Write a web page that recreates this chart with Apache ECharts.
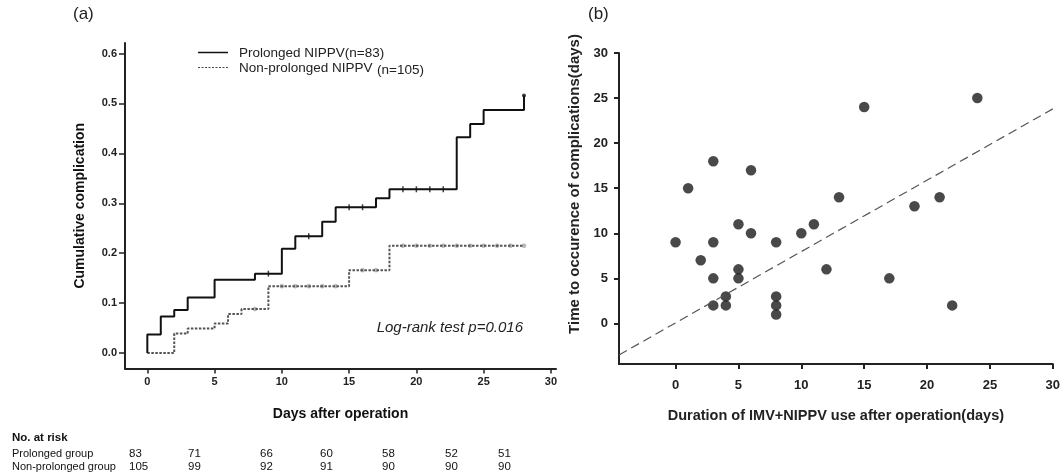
<!DOCTYPE html>
<html><head><meta charset="utf-8">
<script src="https://cdn.jsdelivr.net/npm/echarts@6/dist/echarts.min.js"></script>
<style>html,body{margin:0;padding:0;background:#fff}#c{width:1063px;height:475px}</style>
</head><body><div id="c"></div>
<script>
// ---- Panel (a): Kaplan-Meier cumulative complication ----
const prolongedTimes = [0, 0, 1, 2, 3, 5, 8, 10, 11, 13, 14, 17, 18, 23, 24, 25, 28, 28];
const prolongedVals  = [0, 0.037, 0.073, 0.086, 0.111, 0.147, 0.159, 0.209, 0.234, 0.263, 0.292, 0.310, 0.328, 0.432, 0.459, 0.487, 0.487, 0.516];
const prolongedCensorTimes = [9, 12, 15, 16, 19, 20, 21, 22];
const prolongedCensorVals  = [0.159, 0.234, 0.292, 0.292, 0.328, 0.328, 0.328, 0.328];
const prolongedEnd = [[28, 0.516]];

const nonProlongedTimes = [0, 2, 3, 5, 6, 7, 9, 15, 18, 28];
const nonProlongedVals  = [0, 0.039, 0.049, 0.059, 0.078, 0.088, 0.134, 0.166, 0.215, 0.215];
const nonProlongedCensorTimes = [8, 10, 11, 12, 13, 14, 16, 17, 19, 20, 21, 22, 23, 24, 25, 26, 27, 28];
const nonProlongedCensorVals  = [0.088, 0.134, 0.134, 0.134, 0.134, 0.134, 0.166, 0.166, 0.215, 0.215, 0.215, 0.215, 0.215, 0.215, 0.215, 0.215, 0.215, 0.215];

const kmXTicks = [0, 5, 10, 15, 20, 25, 30];
const kmYTicks = [0, 0.1, 0.2, 0.3, 0.4, 0.5, 0.6];

const riskGroups = ['Prolonged group', 'Non-prolonged group'];
const riskProlonged = [83, 71, 66, 60, 58, 52, 51];
const riskNonProlonged = [105, 99, 92, 91, 90, 90, 90];

// ---- Panel (b): scatter ----
const durX = [0, 1, 3, 6, 2, 3, 3, 3, 4, 4, 5, 5, 5, 6, 8, 8, 8, 8, 10, 11, 12, 13, 15, 17, 19, 21, 22, 24];
const timeY = [9, 15, 18, 17, 7, 9, 5, 2, 3, 2, 11, 6, 5, 10, 9, 3, 2, 1, 10, 11, 6, 14, 24, 5, 13, 14, 2, 25];
const fitLine = [[-4.5, -3.5], [30, 23.8]];
const scXTicks = [0, 5, 10, 15, 20, 25, 30];
const scYTicks = [0, 5, 10, 15, 20, 25, 30];

const zip = (a, b) => a.map((v, i) => [v, b[i]]);
const FONT = 'Arial, "Liberation Sans", sans-serif';
const axisLine = {show: true, onZero: false, lineStyle: {color: '#222', width: 2}};

const chart = echarts.init(document.getElementById('c'), null, {renderer: 'canvas'});

const riskCols = [129, 188, 260, 320, 382, 445, 498];
const graphics = [
  {type: 'text', left: 73, top: 6, style: {text: '(a)', font: '17px ' + FONT, fill: '#222'}},
  {type: 'text', left: 588, top: 6, style: {text: '(b)', font: '17px ' + FONT, fill: '#222'}},
  {type: 'line', shape: {x1: 198, y1: 52.5, x2: 228, y2: 52.5}, style: {stroke: '#111', lineWidth: 1.5}},
  {type: 'line', shape: {x1: 198, y1: 67.5, x2: 228, y2: 67.5}, style: {stroke: '#444', lineWidth: 1.2, lineDash: [2, 1.5]}},
  {type: 'text', left: 239, top: 46, style: {text: 'Prolonged NIPPV(n=83)', font: '13.5px ' + FONT, fill: '#222'}},
  {type: 'text', left: 239, top: 61, style: {text: 'Non-prolonged NIPPV', font: '13.5px ' + FONT, fill: '#222'}},
  {type: 'text', left: 377, top: 63, style: {text: '(n=105)', font: '13.5px ' + FONT, fill: '#222'}},
  {type: 'text', right: 1063 - 523, top: 320, style: {text: 'Log-rank test p=0.016', font: 'italic 15px ' + FONT, fill: '#222'}},
  {type: 'text', x: 575, y: 184, rotation: Math.PI / 2,
   style: {text: 'Time to occurence of complications(days)', font: 'bold 15px ' + FONT, fill: '#222',
           align: 'center', verticalAlign: 'middle'}},
  {type: 'text', left: 12, top: 432, style: {text: 'No. at risk', font: 'bold 11.5px ' + FONT, fill: '#111'}},
  {type: 'text', left: 12, top: 448, style: {text: riskGroups[0], font: '11px ' + FONT, fill: '#111'}},
  {type: 'text', left: 12, top: 461, style: {text: riskGroups[1], font: '11px ' + FONT, fill: '#111'}}
];
riskProlonged.forEach((v, i) => graphics.push({type: 'text', left: riskCols[i], top: 448, style: {text: String(v), font: '11.5px ' + FONT, fill: '#111'}}));
riskNonProlonged.forEach((v, i) => graphics.push({type: 'text', left: riskCols[i], top: 461, style: {text: String(v), font: '11.5px ' + FONT, fill: '#111'}}));

chart.setOption({
  animation: false,
  backgroundColor: '#fff',
  textStyle: {fontFamily: FONT},
  grid: [
    {left: 125, top: 43, width: 431, height: 325.5},
    {left: 619, top: 53, width: 434, height: 311}
  ],
  xAxis: [
    {type: 'value', gridIndex: 0, min: -1.66, max: 30.38,
     name: 'Days after operation', nameLocation: 'middle', nameGap: 39,
     nameTextStyle: {fontWeight: 'bold', fontSize: 14, color: '#111'},
     axisLine, splitLine: {show: false},
     axisTick: {show: true, length: 5, lineStyle: {color: '#222', width: 1.5}, customValues: kmXTicks},
     axisLabel: {fontWeight: 'bold', fontSize: 11, color: '#222', margin: 8, customValues: kmXTicks}},
    {type: 'value', gridIndex: 1, min: -4.5, max: 30,
     name: 'Duration of IMV+NIPPV use after operation(days)', nameLocation: 'middle', nameGap: 44,
     nameTextStyle: {fontWeight: 'bold', fontSize: 14.5, color: '#222'},
     axisLine, splitLine: {show: false},
     axisTick: {show: true, length: 5, lineStyle: {color: '#222', width: 2}, customValues: scXTicks},
     axisLabel: {fontWeight: 'bold', fontSize: 13, color: '#222', margin: 15, customValues: scXTicks}}
  ],
  yAxis: [
    {type: 'value', gridIndex: 0, min: -0.031, max: 0.621,
     name: 'Cumulative complication', nameLocation: 'middle', nameGap: 38,
     nameTextStyle: {fontWeight: 'bold', fontSize: 14, color: '#111'},
     axisLine, splitLine: {show: false},
     axisTick: {show: true, length: 6, lineStyle: {color: '#222', width: 1.5}, customValues: kmYTicks},
     axisLabel: {fontWeight: 'bold', fontSize: 11, color: '#222', margin: 8, customValues: kmYTicks,
                 formatter: v => v.toFixed(1)}},
    {type: 'value', gridIndex: 1, min: -4.5, max: 30,
     axisLine, splitLine: {show: false},
     axisTick: {show: true, length: 5, lineStyle: {color: '#222', width: 2}, customValues: scYTicks},
     axisLabel: {fontWeight: 'bold', fontSize: 13, color: '#222', margin: 11, customValues: scYTicks}}
  ],
  series: [
    {type: 'line', xAxisIndex: 0, yAxisIndex: 0, step: 'end', symbol: 'none',
     data: zip(nonProlongedTimes, nonProlongedVals),
     lineStyle: {color: '#555', width: 2, type: [2.5, 1.5]}},
    {type: 'scatter', xAxisIndex: 0, yAxisIndex: 0, symbol: 'circle', symbolSize: 4,
     data: zip(nonProlongedCensorTimes, nonProlongedCensorVals),
     itemStyle: {color: '#aaa', borderColor: '#999', borderWidth: 0.5}},
    {type: 'line', xAxisIndex: 0, yAxisIndex: 0, step: 'end', symbol: 'none',
     data: zip(prolongedTimes, prolongedVals),
     lineStyle: {color: '#111', width: 2}},
    {type: 'scatter', xAxisIndex: 0, yAxisIndex: 0, symbol: 'rect', symbolSize: [1.5, 6],
     data: zip(prolongedCensorTimes, prolongedCensorVals),
     itemStyle: {color: '#111'}},
    {type: 'scatter', xAxisIndex: 0, yAxisIndex: 0, symbol: 'circle', symbolSize: 4,
     data: prolongedEnd, itemStyle: {color: '#111'}},
    {type: 'line', xAxisIndex: 1, yAxisIndex: 1, symbol: 'none', data: fitLine,
     lineStyle: {color: '#555', width: 1.2, type: [9, 5]}},
    {type: 'scatter', xAxisIndex: 1, yAxisIndex: 1, symbol: 'circle', symbolSize: 10.5,
     data: zip(durX, timeY), itemStyle: {color: '#1c1c1c'}}
  ],
  graphic: graphics
});
</script></body></html>
